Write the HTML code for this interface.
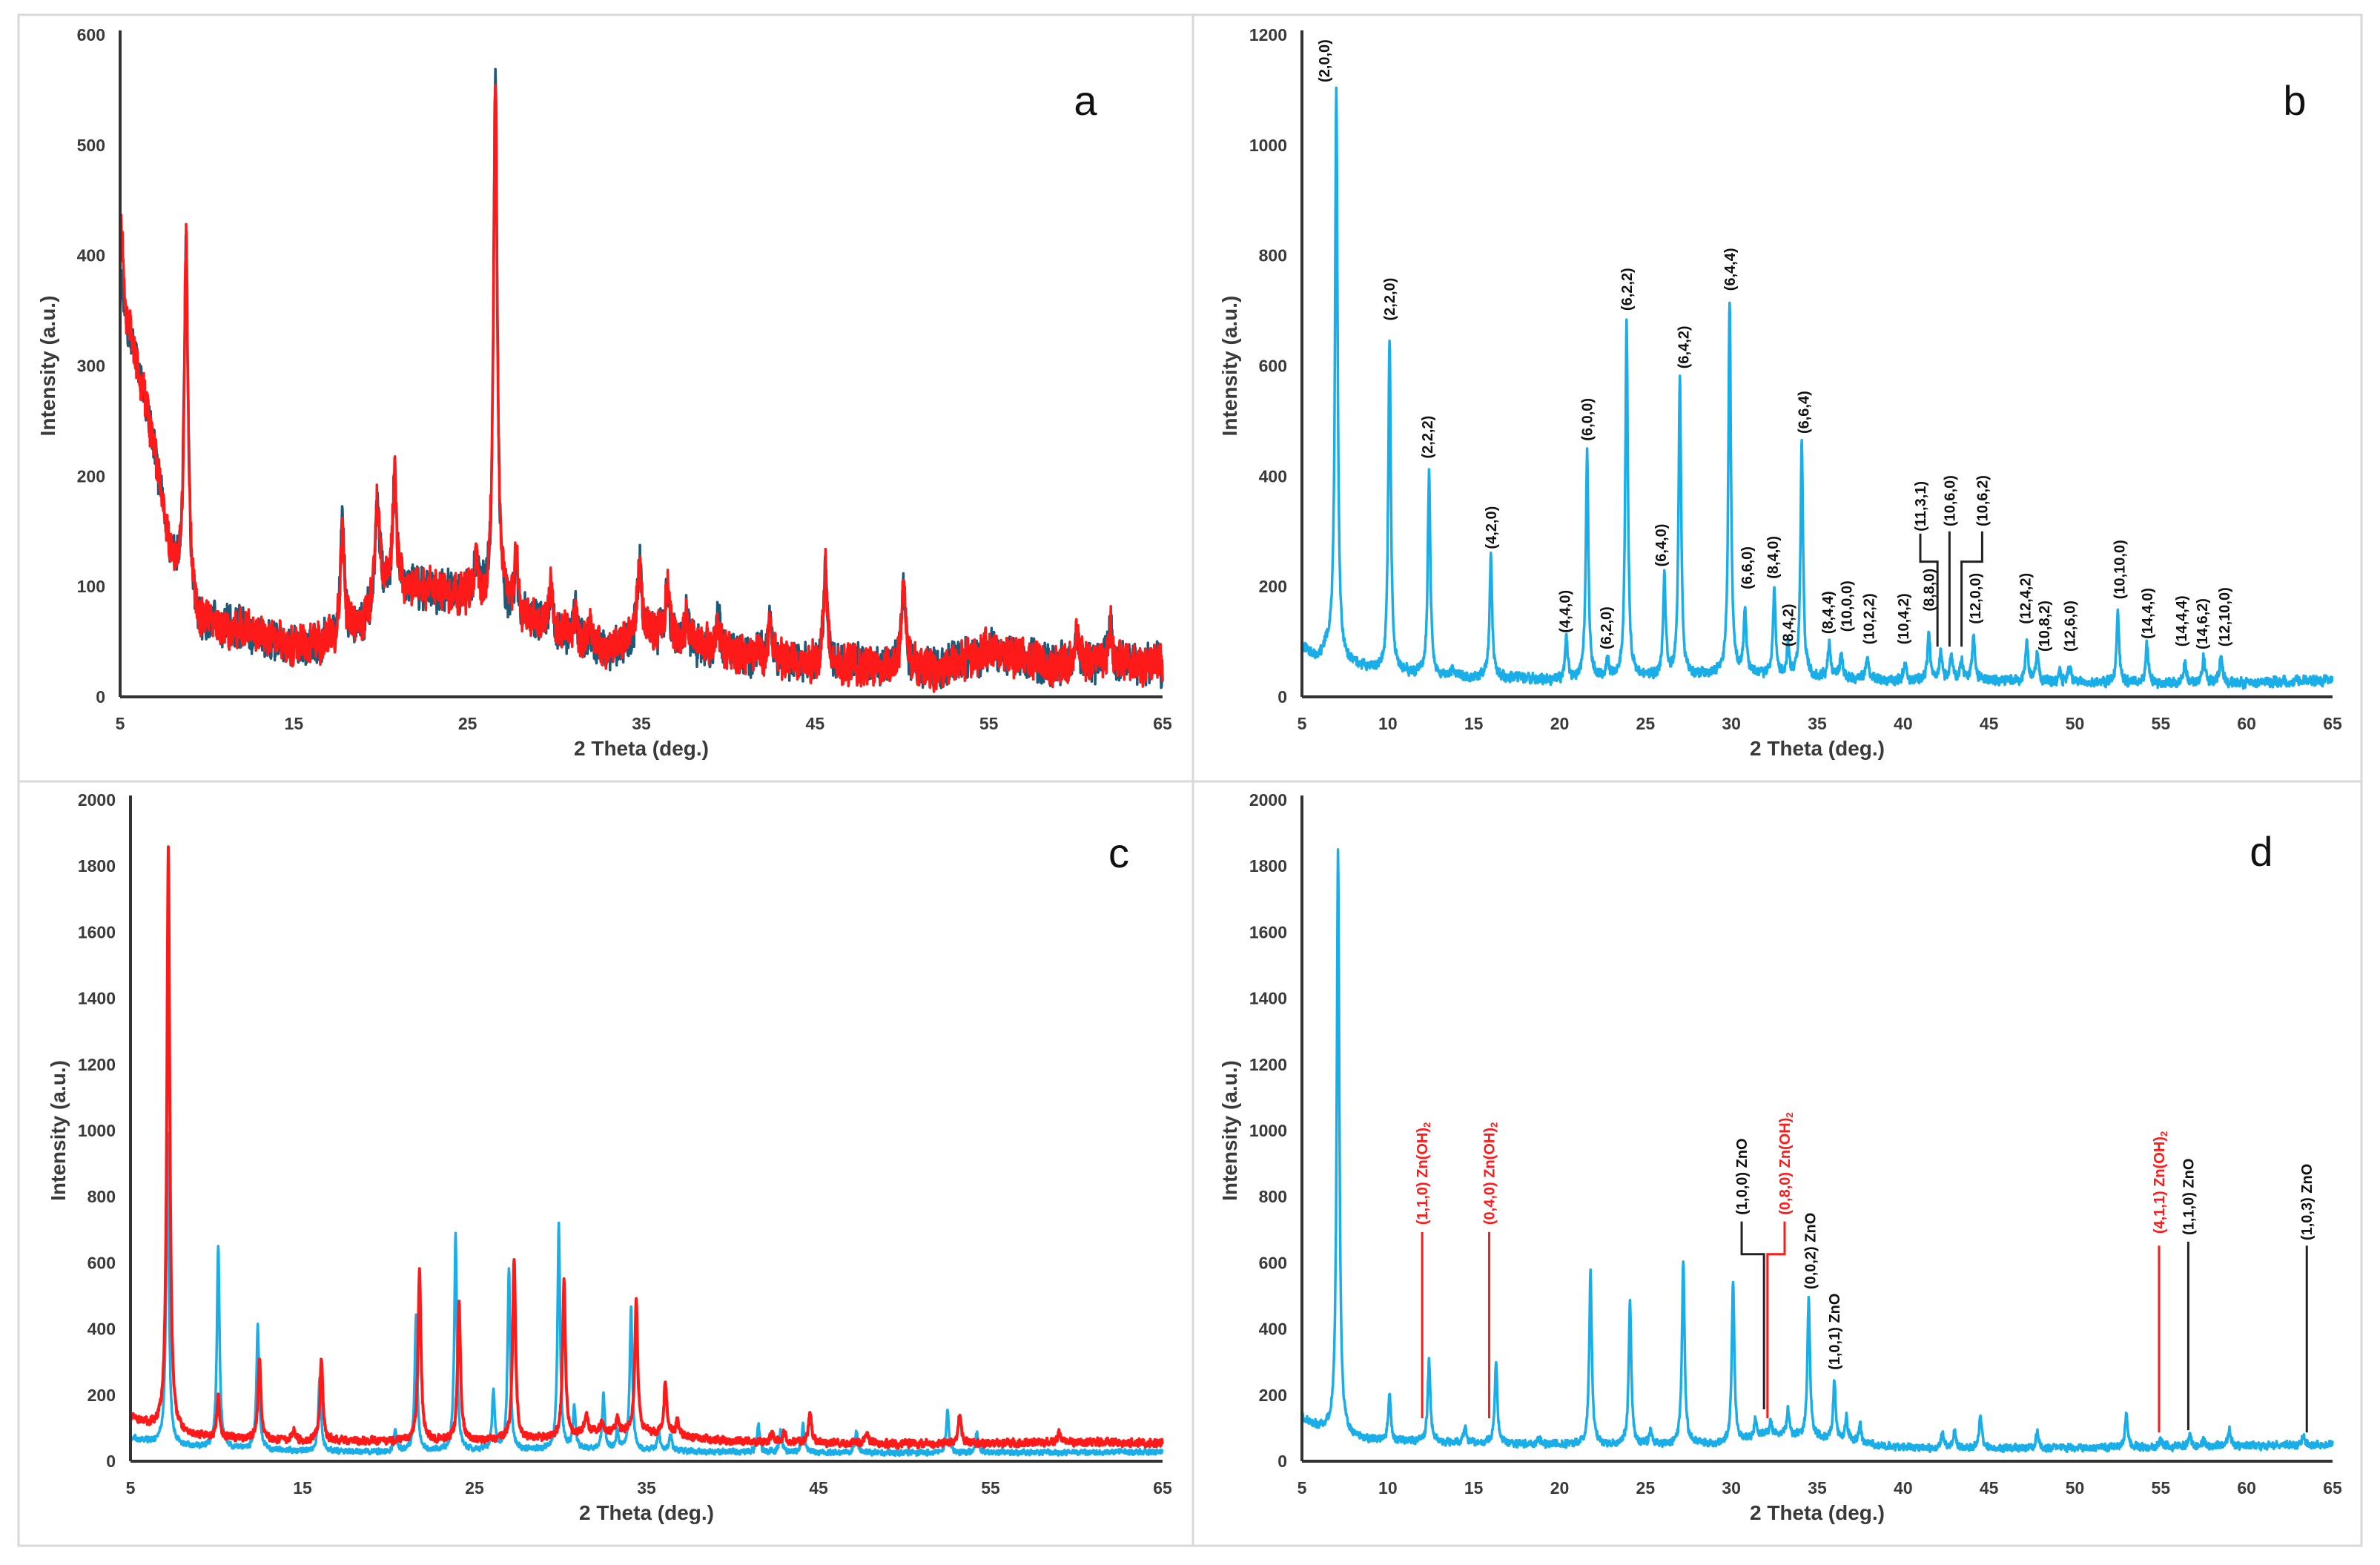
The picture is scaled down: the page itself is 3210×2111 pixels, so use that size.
<!DOCTYPE html>
<html><head><meta charset="utf-8"><style>
html,body{margin:0;padding:0;background:#fff;}
svg{display:block;}
text{font-family:"Liberation Sans",Arial,sans-serif;}
</style></head><body>
<svg id="fig" width="3210" height="2111" viewBox="0 0 3210 2111" xmlns="http://www.w3.org/2000/svg">
<rect x="0" y="0" width="3210" height="2111" fill="#fff"/>
<g stroke="#d9d9d9" stroke-width="3" fill="none">
<rect x="25" y="20" width="3160" height="2065"/>
<line x1="1609" y1="20" x2="1609" y2="2085"/>
<line x1="25" y1="1054" x2="3185" y2="1054"/>
</g>
<g id="layer"></g>
</svg>
<script>
// ---------- DATA ----------
// panel a
const aBaseX=[5,5.5,6,7,8,8.5,9.5,12,15,17,19,20,22,25,27,30,33,35,37,40,45,50,52,55,58,60,63,65];
const aBaseY=[360,330,300,220,120,100,65,62,45,50,65,100,98,90,75,60,40,60,50,40,30,28,25,42,30,30,30,25];
const aPeakPos=[5.05,8.8,17.8,19.8,20.8,25.5,26.6,27.8,29.8,31.2,32.0,34.9,36.5,37.6,39.4,42.4,45.6,50.1,60.1,62.0,64.5];
const aPeakRed=[430,415,150,180,200,120,560,125,95,75,65,120,105,75,70,72,115,105,60,65,40];
const aPeakTeal=[380,425,162,175,205,118,565,120,98,80,62,122,100,72,75,75,118,100,58,62,42];
// panel b
const bBaseX=[5,6,6.5,7.5,10,15,20,25,30,35,40,45,50,55,60,65];
const bBaseY=[88,70,90,60,45,35,30,35,40,35,30,30,25,25,25,30];
const bPeakPos=[7.0,10.1,12.4,13.8,16.0,17.5,20.4,21.6,22.8,23.9,26.1,27.0,29.9,30.8,32.5,33.3,34.1,35.7,36.4,37.9,40.1,41.5,42.2,42.8,43.4,44.1,47.2,47.8,49.1,49.7,52.5,54.2,56.4,57.5,58.5];
const bPeakH=[1100,650,405,50,255,40,105,445,65,680,215,580,715,160,200,90,465,95,80,75,60,120,80,75,65,115,100,80,45,60,150,95,60,75,75];
// panel c blue
const cbBaseX=[5,6,8,10,15,20,30,40,50,65];
const cbBaseY=[70,60,45,40,30,28,35,28,25,28];
const cbPeakPos=[7.15,10.1,12.4,16.0,20.4,21.6,23.9,26.1,27.0,29.9,30.8,32.5,33.3,34.1,35.7,36.4,41.5,42.8,44.1,47.2,52.5,54.2];
const cbPeakH=[1000,650,405,255,95,445,680,215,580,715,160,200,90,465,90,80,110,90,110,90,150,90];
// panel c red
const cBaseX=[5,6,7,8,10,15,20,25,30,32,35,40,45,50,55,60,65];
const cBaseY=[130,110,95,80,70,62,60,62,70,90,85,60,55,52,55,58,55];
const cPeakPos=[7.2,10.1,12.5,14.5,16.1,21.8,24.1,27.3,30.2,31.5,32.4,33.3,34.4,36.1,36.8,42.3,43.0,44.5,47.8,53.2,59.0];
const cPeakH=[1850,190,310,90,310,570,480,610,540,140,120,130,490,240,120,90,90,150,90,140,90];
// panel d
const dBaseX=[5,6,8,10,20,30,32,35,40,50,65];
const dBaseY=[130,100,70,60,50,50,80,70,40,40,50];
const dPeakPos=[7.1,10.1,12.4,14.5,16.3,18.8,21.8,24.1,25.3,27.2,30.1,31.4,32.3,33.3,34.5,36.0,36.7,37.5,42.3,43.0,44.5,47.8,53.0,55.0,56.7,57.5,59.0,63.3];
const dPeakH=[1850,200,310,100,300,70,570,480,90,615,540,130,120,160,490,240,130,110,90,90,140,90,150,70,80,60,100,80];
// tick labels
const aYTicks=[0,100,200,300,400,500,600];
const a_cXTicks=[5,15,25,35,45,55,65];
const bYTicks=[0,200,400,600,800,1000,1200];
const b_dXTicks=[5,10,15,20,25,30,35,40,45,50,55,60,65];
const cdYTicks=[0,200,400,600,800,1000,1200,1400,1600,1800,2000];
// panel b hkl annotations
const bLabText=["(2,0,0)","(2,2,0)","(2,2,2)","(4,2,0)","(4,4,0)","(6,0,0)","(6,2,0)","(6,2,2)","(6,4,0)","(6,4,2)","(6,4,4)","(6,6,0)","(8,4,0)","(8,4,2)","(6,6,4)","(8,4,4)","(10,0,0)","(10,2,2)","(10,4,2)","(8,8,0)","(11,3,1)","(10,6,0)","(12,0,0)","(10,6,2)","(12,4,2)","(10,8,2)","(12,6,0)","(10,10,0)","(14,4,0)","(14,4,4)","(14,6,2)","(12,10,0)"];
const bLabX=[6.3,10.1,12.3,16.0,20.3,21.6,22.7,23.9,25.9,27.2,29.9,30.9,32.4,33.3,34.2,35.6,36.7,38.0,40.0,41.5,41.0,42.7,44.2,44.6,47.1,48.2,49.7,52.6,54.2,56.2,57.4,58.7];
const bLabY=[1114,682,432,268,116,464,86,700,236,595,736,195,214,91,477,114,118,95,95,155,300,309,132,309,132,82,82,177,105,91,86,91];
// panel d annotations
const dLabText=["(1,1,0)","(0,4,0)","(1,0,0)","(0,8,0)","(0,0,2)","(1,0,1)","(4,1,1)","(1,1,0)","(1,0,3)"];
const dLabPhase=["Zn(OH)2","Zn(OH)2","ZnO","Zn(OH)2","ZnO","ZnO","Zn(OH)2","ZnO","ZnO"];
const dLabX=[12.0,15.9,30.6,33.1,34.6,36.0,54.9,56.6,63.5];
const dLabY=[715,715,745,745,520,276,688,684,668];
const dLineTop=[693,693,0,0,0,0,652,664,652];
const dLineBot=[130,130,0,0,0,0,87,94,87];

// ---------- helpers ----------
const NS="http://www.w3.org/2000/svg";
const layer=document.getElementById('layer');
function el(tag,attrs,parent){const e=document.createElementNS(NS,tag);for(const k in attrs)e.setAttribute(k,attrs[k]);(parent||layer).appendChild(e);return e;}
function interp(xs,ys,x){if(x<=xs[0])return ys[0];for(let i=1;i<xs.length;i++){if(x<=xs[i]){const t=(x-xs[i-1])/(xs[i]-xs[i-1]);return ys[i-1]+t*(ys[i]-ys[i-1]);}}return ys[ys.length-1];}
function texture(i,seed){const s=Math.sin(i*12.9898+seed*78.233)*43758.5453;return (s-Math.floor(s))*2-1;}
function profile(bx,by,pos,hts,w,amp,seed){
  const pts=[];const amps=pos.map((p,k)=>Math.max(0,hts[k]-interp(bx,by,p)));
  let i=0;
  for(let x=5;x<=65.0001;x+=0.02,i++){
    let y=interp(bx,by,x);
    for(let k=0;k<pos.length;k++){const d=(x-pos[k])/w;y+=amps[k]/(1+d*d);}
    y+=amp*(0.7*texture(i,seed)+0.3*texture(Math.floor(i/4),seed+3));
    pts.push([x,Math.max(0,y)]);
  }
  return pts;
}
function makeAxes(name,x0,x1,y0,y1,xmax,ymax){
  const sx=v=>x0+(v-5)/(xmax-5)*(x1-x0);
  const sy=v=>y0-(v/ymax)*(y0-y1);
  return {sx,sy,x0,x1,y0,y1,name};
}
function drawFrame(ax,yTicks,xTicks,letter,lx,ly){
  const g=el('g',{});
  
  
  yTicks.forEach(v=>{const t=el('text',{x:ax.x0-20,y:ax.sy(v)+8,'text-anchor':'end','font-size':'23','font-weight':'bold',fill:'#3a3a3a'},g);t.textContent=v;
    });
  xTicks.forEach(v=>{const t=el('text',{x:ax.sx(v),y:ax.y0+44,'text-anchor':'middle','font-size':'23','font-weight':'bold',fill:'#3a3a3a'},g);t.textContent=v;
    });
  const xt=el('text',{x:(ax.x0+ax.x1)/2,y:ax.y0+79,'text-anchor':'middle','font-size':'28','font-weight':'bold',fill:'#3a3a3a'},g);xt.textContent='2 Theta (deg.)';
  
  const cy=(ax.y0+ax.y1)/2;const tx=ax.x0-88;
  const yt=el('text',{x:tx,y:cy,'text-anchor':'middle','font-size':'28','font-weight':'bold',fill:'#3a3a3a',transform:`rotate(-90 ${tx} ${cy})`},g);yt.textContent='Intensity (a.u.)';
  
  const pl=el('text',{x:lx,y:ly,'text-anchor':'middle','font-size':'56',fill:'#111'},g);pl.textContent=letter;
  
}
function drawAxisLines(ax){
  const l1=el('line',{x1:ax.x0,y1:ax.y1-6,x2:ax.x0,y2:ax.y0,stroke:'#333',"stroke-width":4});
  
  const l2=el('line',{x1:ax.x0,y1:ax.y0,x2:ax.x1,y2:ax.y0,stroke:'#333',"stroke-width":4});
  
}
function drawSeries(ax,pts,color,w,name){
  let d='';pts.forEach((p,i)=>{d+=(i?'L':'M')+ax.sx(p[0]).toFixed(1)+' '+ax.sy(p[1]).toFixed(1);});
  const p=el('path',{d:d,fill:'none',stroke:color,'stroke-width':w,'stroke-linejoin':'round'});
  
  
}
function vlabel(ax,x,yb,str,color,size){
  const px=ax.sx(x)+7, py=ax.sy(yb);
  const t=el('text',{x:px,y:py,'font-size':size,'font-weight':'bold',fill:color,transform:`rotate(-90 ${px} ${py})`});
  
  
  t.textContent=str;
  return t;
}
function seg(pts,color,name){
  const p=el('polyline',{points:pts.map(q=>q.join(',')).join(' '),fill:'none',stroke:color,'stroke-width':3});
  
  
}

// ---------- Panel a ----------
const A=makeAxes('panel-a',162,1568,940,47,65,600);
drawFrame(A,aYTicks,a_cXTicks,'a',1464,155);
drawSeries(A,profile(aBaseX,aBaseY,aPeakPos,aPeakTeal,0.13,22,2),'#1c5a78',3.5,'series-a-teal');
drawSeries(A,profile(aBaseX,aBaseY,aPeakPos,aPeakRed,0.13,22,5),'#ff1a1a',3.5,'series-a-red');
drawAxisLines(A);

// ---------- Panel b ----------
const B=makeAxes('panel-b',1756,3146,940,47,65,1200);
drawFrame(B,bYTicks,b_dXTicks,'b',3095,155);
drawSeries(B,profile(bBaseX,bBaseY,bPeakPos,bPeakH,0.09,11,7),'#1aaee9',3.5,'series-b-blue');
bLabText.forEach((s,i)=>vlabel(B,bLabX[i],bLabY[i],s,'#111',20));
seg([[B.sx(41.0),B.sy(296)],[B.sx(41.0),B.sy(245)],[B.sx(42.0),B.sy(245)],[B.sx(42.0),B.sy(91)]],'#222','bracket-11-3-1');
seg([[B.sx(42.7),B.sy(300)],[B.sx(42.7),B.sy(91)]],'#222','bracket-10-6-0');
seg([[B.sx(44.6),B.sy(300)],[B.sx(44.6),B.sy(245)],[B.sx(43.4),B.sy(245)],[B.sx(43.4),B.sy(91)]],'#222','bracket-10-6-2');
drawAxisLines(B);

// ---------- Panel c ----------
const C=makeAxes('panel-c',176,1568,1971,1079,65,2000);
drawFrame(C,cdYTicks,a_cXTicks,'c',1509,1170);
drawSeries(C,profile(cbBaseX,cbBaseY,cbPeakPos,cbPeakH,0.09,10,9),'#1aaee9',3.5,'series-c-blue');
drawSeries(C,profile(cBaseX,cBaseY,cPeakPos,cPeakH,0.1,14,11),'#ff1a1a',4,'series-c-red');
drawAxisLines(C);

// ---------- Panel d ----------
const D=makeAxes('panel-d',1756,3146,1971,1079,65,2000);
drawFrame(D,cdYTicks,b_dXTicks,'d',3050,1168);
drawSeries(D,profile(dBaseX,dBaseY,dPeakPos,dPeakH,0.09,14,13),'#1aaee9',3.5,'series-d-blue');
dLabText.forEach((s,i)=>{
  const red=dLabPhase[i]!=='ZnO';
  const t=vlabel(D,dLabX[i],dLabY[i],s+' ',red?'#ff1a1a':'#111',20);
  if(red){t.appendChild(document.createTextNode('Zn(OH)'));const s2=el('tspan',{'font-size':13,dy:4},t);s2.textContent='2';}
  else t.appendChild(document.createTextNode('ZnO'));
  if(dLineTop[i]>0) seg([[D.sx(dLabX[i]),D.sy(dLineTop[i])],[D.sx(dLabX[i]),D.sy(dLineBot[i])]],red?'#ff1a1a':'#222','marker-line');
});
seg([[D.sx(30.6),D.sy(725)],[D.sx(30.6),D.sy(626)],[D.sx(31.9),D.sy(626)],[D.sx(31.9),D.sy(157)]],'#222','bracket-zno-100');
seg([[D.sx(33.1),D.sy(725)],[D.sx(33.1),D.sy(626)],[D.sx(32.1),D.sy(626)],[D.sx(32.1),D.sy(130)]],'#ff1a1a','bracket-znoh-080');
drawAxisLines(D);
</script>
</body></html>
